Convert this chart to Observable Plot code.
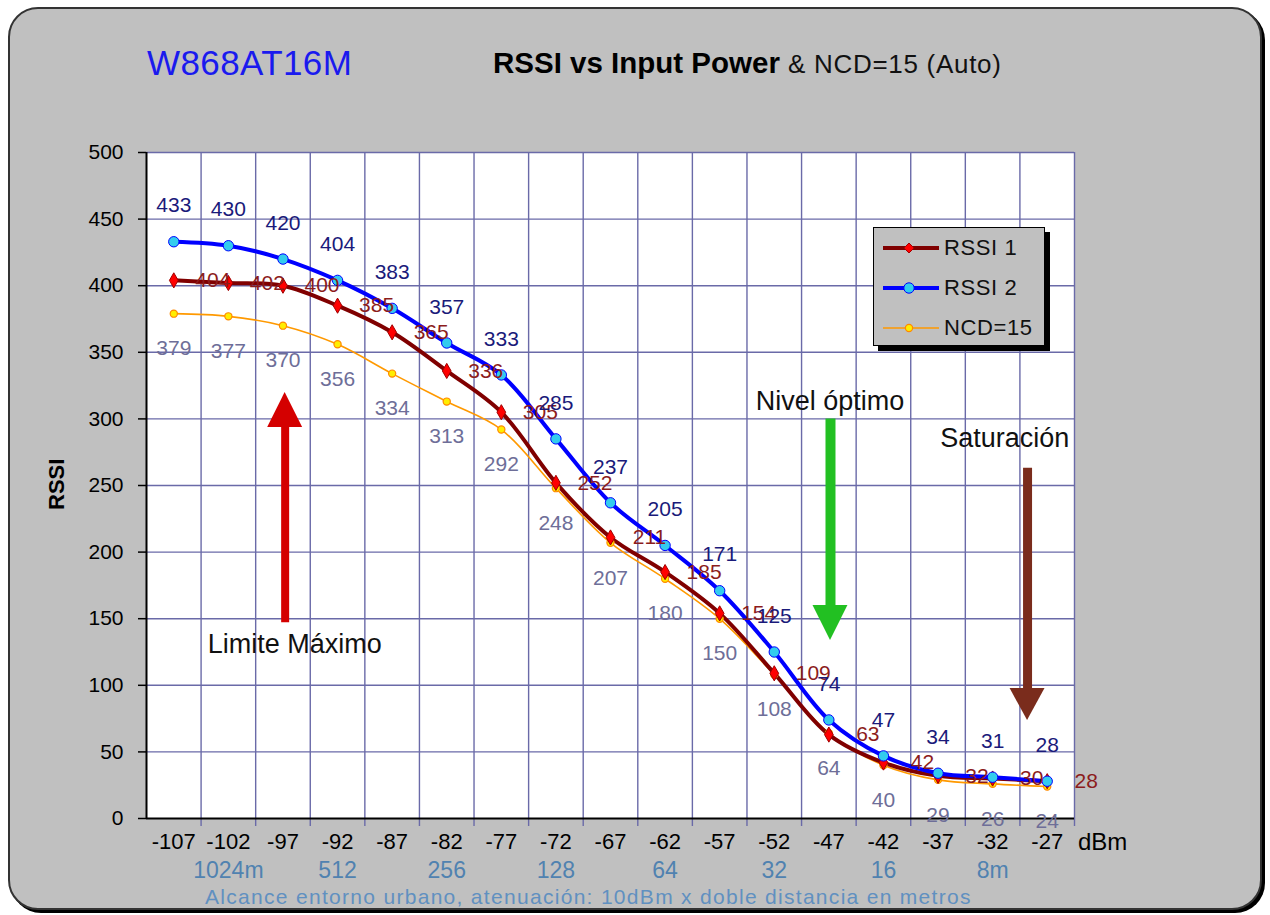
<!DOCTYPE html>
<html><head><meta charset="utf-8">
<script src="https://cdn.jsdelivr.net/npm/d3@7"></script>
<script src="https://cdn.jsdelivr.net/npm/@observablehq/plot@0.6"></script>
<style>
body{margin:0;background:#fff;width:1270px;height:915px;overflow:hidden;position:relative;font-family:"Liberation Sans",Arial,sans-serif}
#bg{position:absolute;left:8px;top:7px;width:1250px;height:899px;background:#c0c0c0;border:2px solid #333;border-radius:30px;box-shadow:3px 3px 0 #000}
#chart{position:absolute;left:0;top:0}
.t{position:absolute;white-space:nowrap;line-height:1}
#legend{position:absolute;left:873px;top:227px;width:170px;height:117px;background:#c0c0c0;border:1px solid #000;box-shadow:5px 5px 0 #000}
#legend .row{position:absolute;left:0;height:30px;width:170px}
#legend svg{position:absolute;left:0;top:0}
#legend span{position:absolute;left:70px;top:4px;font-size:22px;color:#111;line-height:1;letter-spacing:0.6px}
</style></head><body>
<div id="bg"></div>
<div id="chart"></div>
<div class="t" style="left:147px;top:45px;font-size:35px;color:#1a1aee;letter-spacing:0.4px">W868AT16M</div>
<div class="t" style="left:493px;top:48px;font-size:29.5px;color:#000"><b>RSSI vs Input Power</b> <span style="font-size:26px;color:#111;letter-spacing:0.7px">&amp; NCD=15 (Auto)</span></div>
<div class="t" style="left:32px;top:474px;font-size:22px;font-weight:bold;color:#000;transform:rotate(-90deg);transform-origin:center;width:50px;text-align:center">RSSI</div>
<div class="t" style="left:1078px;top:830px;font-size:24px;color:#000">dBm</div>
<div class="t" style="left:205px;top:886px;font-size:21px;color:#6090c0;letter-spacing:1.3px">Alcance entorno urbano, atenuación: 10dBm x doble distancia en metros</div>
<div id="legend"></div>
<script>
// ---- data ----
const dbm = [-107,-102,-97,-92,-87,-82,-77,-72,-67,-62,-57,-52,-47,-42,-37,-32,-27];
const rssi1 = [404,402,400,385,365,336,305,252,211,185,154,109,63,42,32,30,28];
const rssi2 = [433,430,420,404,383,357,333,285,237,205,171,125,74,47,34,31,28];
const ncd15 = [379,377,370,356,334,313,292,248,207,180,150,108,64,40,29,26,24];
const yTicks = [0,50,100,150,200,250,300,350,400,450,500];
const xBounds = [-104.5,-99.5,-94.5,-89.5,-84.5,-79.5,-74.5,-69.5,-64.5,-59.5,-54.5,-49.5,-44.5,-39.5,-34.5,-29.5,-24.5];
const distLabels = ["1024m","512","256","128","64","32","16","8m"];
const distX = [-102,-92,-82,-72,-62,-52,-42,-32];
const seriesNames = ["RSSI 1","RSSI 2","NCD=15"];
// annotations (data coordinates)
const arrowX = [-96.8,-46.85,-28.8];
const arrowTail = [147,300,263];
const arrowBase = [293.5,160,97.6];
const arrowTip = [319.8,133.6,73.6];
const arrowColor = ["#d40000","#22c022","#7a2c1c"];
const arrowWidth = [8,10,9];
const headHalf = 1.6;
const noteText = ["Limite Máximo","Nivel óptimo","Saturación"];
const noteX = [-103.9,-53.7,-36.8];
const noteY = [130.6,313,285.3];

const rows = dbm.map((x,i)=>({x, r1:rssi1[i], r2:rssi2[i], n:ncd15[i]}));
const arrows = arrowX.map((x,i)=>({x, tail:arrowTail[i], base:arrowBase[i], tip:arrowTip[i], color:arrowColor[i], w:arrowWidth[i], id:i}));
const heads = arrows.flatMap(a=>[
  {id:a.id, color:a.color, x:a.x-headHalf, y1:a.base, y2:a.base},
  {id:a.id, color:a.color, x:a.x, y1:a.base, y2:a.tip},
  {id:a.id, color:a.color, x:a.x+headHalf, y1:a.base, y2:a.base}
]);
const notes = noteText.map((t,i)=>({t, x:noteX[i], y:noteY[i]}));

const grid = "#6a6aa8";
const c1 = "#800000", c2 = "#0000ff", c3 = "#ff9900";

const chart = Plot.plot({
  width:1270, height:915,
  marginLeft:146, marginRight:196, marginTop:152, marginBottom:97,
  x:{domain:[-109.5,-24.5]},
  y:{domain:[0,500]},
  style:{background:"transparent", fontFamily:"'Liberation Sans', Arial, sans-serif", overflow:"visible", color:"#000"},
  marks:[
    Plot.frame({fill:"white", stroke:null}),
    Plot.ruleY(yTicks.filter(v=>v>0), {stroke:grid, strokeWidth:1.4}),
    Plot.ruleX(xBounds, {stroke:grid, strokeWidth:1.4}),
    Plot.axisY({ticks:yTicks, tickSize:8, tickPadding:15, fontSize:21, stroke:"#000", strokeWidth:1.5, label:null}),
    Plot.axisX({ticks:xBounds, tickSize:8, tickFormat:()=>"", stroke:grid, strokeWidth:1.4, label:null}),
    Plot.axisX({ticks:dbm, tickSize:0, tickPadding:15, fontSize:22, tickFormat:d=>String(d), label:null}),
    Plot.ruleX([-109.5], {stroke:"#000", strokeWidth:2}),
    Plot.ruleY([0], {stroke:"#000", strokeWidth:2}),
    // arrows
    Plot.ruleX(arrows, {x:"x", y1:"tail", y2:"base", stroke:"color", strokeWidth:"w"}),
    Plot.areaY(heads, {x:"x", y1:"y1", y2:"y2", z:"id", fill:"color", curve:"linear"}),
    Plot.text(notes, {x:"x", y:"y", text:"t", textAnchor:"start", lineAnchor:"middle", fontSize:27, fill:"#111"}),
    // series lines
    Plot.line(rows, {x:"x", y:"n", stroke:c3, strokeWidth:1.6, curve:"catmull-rom"}),
    Plot.line(rows, {x:"x", y:"r1", stroke:c1, strokeWidth:4, curve:"catmull-rom"}),
    Plot.line(rows, {x:"x", y:"r2", stroke:c2, strokeWidth:4, curve:"catmull-rom"}),
    Plot.dot(rows, {x:"x", y:"n", r:3.6, fill:"#ffee00", stroke:"#ff8800", strokeWidth:1.2}),
    Plot.dot(rows, {x:"x", y:"r1", symbol:"diamond", r:4.6, fill:"#ff0000", stroke:"#a00000", strokeWidth:1}),
    Plot.dot(rows, {x:"x", y:"r2", r:5.2, fill:"#33ccee", stroke:"#0000ff", strokeWidth:1}),
    // value labels
    Plot.text(rows, {x:"x", y:"n", text:d=>String(d.n), dy:35, fontSize:21, fill:"#6e6e98", lineAnchor:"middle"}),
    Plot.text(rows, {x:"x", y:"r1", text:d=>String(d.r1), dx:39, fontSize:21, fill:"#8c1c1c", lineAnchor:"middle"}),
    Plot.text(rows, {x:"x", y:"r2", text:d=>String(d.r2), dy:-36, fontSize:21, fill:"#1a1a7a", lineAnchor:"middle"}),
    // distance labels
    Plot.text(distLabels, {x:(d,i)=>distX[i], frameAnchor:"bottom", text:d=>d, dy:52, fontSize:23, fill:"#5082b0", lineAnchor:"middle"})
  ]
});
document.getElementById("chart").appendChild(chart);

// legend
const leg = document.getElementById("legend");
const legColors = [c1,c2,c3];
const legW = [4,4,1.6];
const legMarker = [
  '<path d="M35,10 l5,5 l-5,5 l-5,-5 z" fill="#ff0000" stroke="#a00000"/>',
  '<circle cx="35" cy="15" r="5.2" fill="#33ccee" stroke="#0000ff"/>',
  '<circle cx="35" cy="15" r="3.6" fill="#ffee00" stroke="#ff8800" stroke-width="1.2"/>'
];
seriesNames.forEach((name,i)=>{
  const row = document.createElement("div");
  row.className = "row";
  row.style.top = (5 + i*40) + "px";
  row.innerHTML = `<svg width="70" height="30"><line x1="9" x2="65" y1="15" y2="15" stroke="${legColors[i]}" stroke-width="${legW[i]}"/>${legMarker[i]}</svg><span>${name}</span>`;
  leg.appendChild(row);
});
</script>
</body></html>
